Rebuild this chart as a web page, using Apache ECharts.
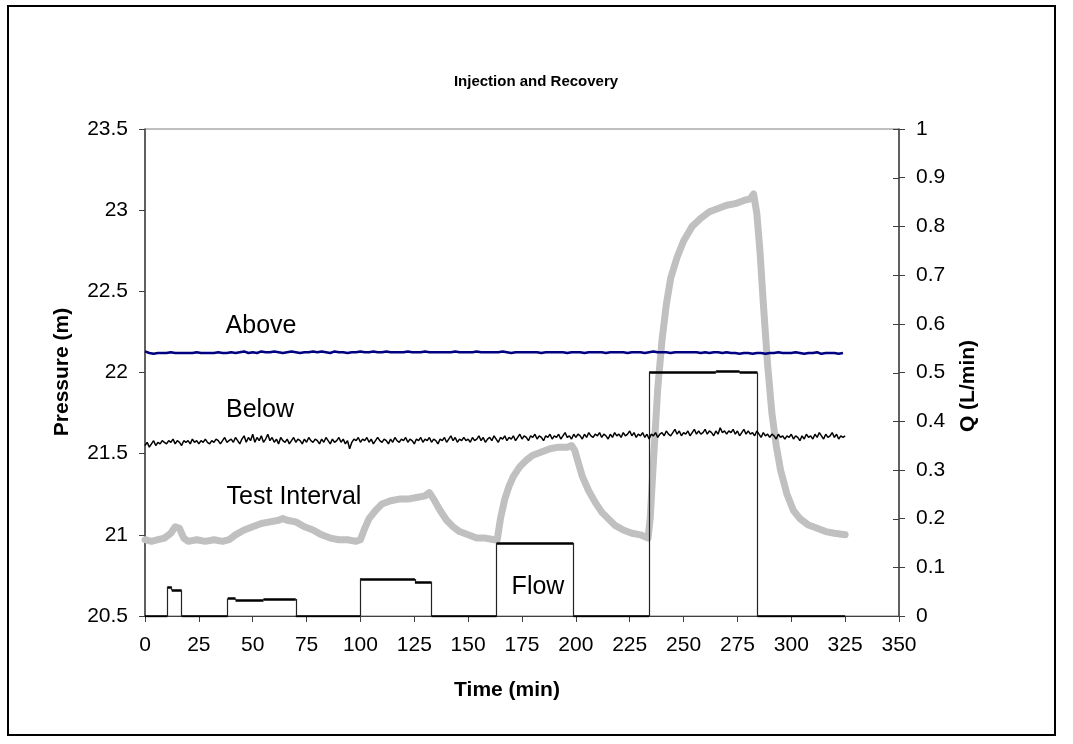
<!DOCTYPE html>
<html>
<head>
<meta charset="utf-8">
<script src="https://cdn.jsdelivr.net/npm/echarts@6/dist/echarts.min.js"></script>
<style>
  html, body { margin: 0; padding: 0; background: #ffffff; }
  #chart { width: 1073px; height: 744px; }
</style>
</head>
<body>
<div id="chart"></div>
<script>
// ---- axis ranges / ticks ----
const timeRange = [0, 350, 25];          // min, max, step (min)
const pressureRange = [20.5, 23.5, 0.5]; // m
const flowRange = [0, 1, 0.1];           // L/min

// ---- "Above" transducer, sampled every 2 min from t = 0 ----
const aboveStart = 0, aboveStep = 2;
const abovePressure = [
  22.13, 22.12, 22.115, 22.12, 22.12, 22.12, 22.125, 22.12, 22.12, 22.12,
  22.12, 22.12, 22.125, 22.12, 22.12, 22.12, 22.12, 22.125, 22.12, 22.12,
  22.125, 22.12, 22.125, 22.13, 22.12, 22.125, 22.12, 22.13, 22.125, 22.125,
  22.13, 22.125, 22.12, 22.125, 22.13, 22.125, 22.12, 22.125, 22.125, 22.13,
  22.125, 22.13, 22.125, 22.12, 22.13, 22.125, 22.125, 22.12, 22.125, 22.125,
  22.13, 22.125, 22.125, 22.13, 22.125, 22.125, 22.13, 22.125, 22.125, 22.125,
  22.125, 22.13, 22.125, 22.125, 22.125, 22.13, 22.125, 22.125, 22.125, 22.125,
  22.125, 22.125, 22.13, 22.125, 22.125, 22.125, 22.125, 22.13, 22.125, 22.125,
  22.125, 22.125, 22.125, 22.13, 22.125, 22.12, 22.125, 22.125, 22.125, 22.125,
  22.125, 22.125, 22.12, 22.125, 22.125, 22.125, 22.125, 22.125, 22.12, 22.125,
  22.125, 22.125, 22.12, 22.125, 22.125, 22.125, 22.125, 22.12, 22.125, 22.125,
  22.125, 22.125, 22.12, 22.125, 22.125, 22.125, 22.12, 22.125, 22.13, 22.125,
  22.125, 22.125, 22.12, 22.125, 22.125, 22.125, 22.125, 22.125, 22.125, 22.12,
  22.125, 22.12, 22.125, 22.125, 22.12, 22.125, 22.12, 22.12, 22.115, 22.12,
  22.12, 22.115, 22.12, 22.12, 22.115, 22.12, 22.12, 22.125, 22.12, 22.12,
  22.12, 22.125, 22.12, 22.115, 22.12, 22.12, 22.125, 22.115, 22.12, 22.12,
  22.12, 22.115, 22.12
];

// ---- "Below" transducer, sampled every minute from t = 0 ----
const belowStart = 0, belowStep = 1;
const belowPressure = [
  21.55, 21.57, 21.54, 21.56, 21.58, 21.55, 21.57, 21.56, 21.58, 21.57,
  21.56, 21.58, 21.57, 21.59, 21.56, 21.58, 21.57, 21.55, 21.58, 21.57,
  21.58, 21.56, 21.59, 21.57, 21.58, 21.56, 21.58, 21.57, 21.59, 21.57,
  21.56, 21.58, 21.57, 21.59, 21.58, 21.56, 21.58, 21.60, 21.57, 21.58,
  21.59, 21.57, 21.60, 21.58, 21.56, 21.59, 21.61, 21.57, 21.60, 21.58,
  21.62, 21.57, 21.60, 21.58, 21.61, 21.57, 21.59, 21.62, 21.58, 21.60,
  21.57, 21.59, 21.56, 21.60, 21.58, 21.57, 21.59, 21.56, 21.58, 21.60,
  21.57, 21.59, 21.58, 21.56, 21.59, 21.57, 21.60, 21.58, 21.57, 21.59,
  21.58, 21.56, 21.59, 21.57, 21.60, 21.58, 21.56, 21.59, 21.57, 21.58,
  21.60, 21.57, 21.59, 21.56, 21.58, 21.53, 21.57, 21.59, 21.58, 21.60,
  21.57, 21.59, 21.58, 21.60, 21.57, 21.59, 21.56, 21.58, 21.60, 21.58,
  21.57, 21.59, 21.58, 21.56, 21.59, 21.57, 21.60, 21.58, 21.57, 21.59,
  21.58, 21.60, 21.57, 21.59, 21.58, 21.56, 21.59, 21.58, 21.60, 21.57,
  21.59, 21.58, 21.60, 21.57, 21.59, 21.58, 21.56, 21.59, 21.58, 21.60,
  21.57, 21.59, 21.61, 21.58, 21.60, 21.57, 21.59, 21.58, 21.60, 21.58,
  21.59, 21.57, 21.60, 21.58, 21.59, 21.61, 21.58, 21.60, 21.57, 21.59,
  21.60, 21.58, 21.61, 21.59, 21.57, 21.60, 21.59, 21.61, 21.58, 21.60,
  21.59, 21.61, 21.58, 21.60, 21.62, 21.59, 21.61, 21.60, 21.58, 21.61,
  21.60, 21.62, 21.59, 21.61, 21.60, 21.58, 21.61, 21.60, 21.62, 21.59,
  21.61, 21.60, 21.62, 21.59, 21.61, 21.63, 21.60, 21.61, 21.59, 21.62,
  21.60, 21.62, 21.61, 21.59, 21.62, 21.60, 21.63, 21.61, 21.60, 21.62,
  21.61, 21.63, 21.60, 21.62, 21.61, 21.59, 21.62, 21.60, 21.63, 21.61,
  21.62, 21.60, 21.63, 21.61, 21.62, 21.64, 21.61, 21.63, 21.60, 21.62,
  21.61, 21.63, 21.60, 21.62, 21.59, 21.62, 21.61, 21.63, 21.60, 21.62,
  21.63, 21.61, 21.64, 21.62, 21.61, 21.63, 21.65, 21.62, 21.64, 21.61,
  21.63, 21.62, 21.64, 21.61, 21.63, 21.65, 21.62, 21.64, 21.62, 21.63,
  21.65, 21.62, 21.64, 21.63, 21.61, 21.64, 21.62, 21.66, 21.63, 21.64,
  21.62, 21.64, 21.63, 21.65, 21.62, 21.64, 21.61, 21.63, 21.65, 21.62,
  21.64, 21.62, 21.63, 21.61, 21.64, 21.62, 21.60, 21.63, 21.61, 21.62,
  21.60, 21.62, 21.61, 21.59, 21.62, 21.60, 21.61, 21.59, 21.61, 21.60,
  21.62, 21.59, 21.61, 21.60, 21.58, 21.61, 21.59, 21.62, 21.60, 21.61,
  21.59, 21.62, 21.60, 21.63, 21.61, 21.59, 21.62, 21.60, 21.61, 21.63,
  21.60, 21.62, 21.59, 21.61, 21.60, 21.61
];

// ---- test interval pressure: [time (min), pressure (m)] ----
const testInterval = [
  [0, 20.97], [3, 20.96], [6, 20.97], [9, 20.98], [12, 21.01], [14, 21.05],
  [16, 21.04], [18, 20.98], [20, 20.96], [24, 20.97], [28, 20.96], [32, 20.97],
  [36, 20.96], [39, 20.97], [42, 21.00], [46, 21.03], [50, 21.05], [54, 21.07],
  [58, 21.08], [62, 21.09], [64, 21.10], [66, 21.09], [70, 21.08], [74, 21.05],
  [78, 21.03], [82, 21.00], [86, 20.98], [90, 20.97], [94, 20.97], [98, 20.96],
  [100, 20.97], [102, 21.04], [104, 21.10], [107, 21.15], [110, 21.19], [114, 21.21],
  [118, 21.22], [122, 21.22], [126, 21.23], [130, 21.24], [132, 21.26], [134, 21.22],
  [137, 21.15], [140, 21.09], [143, 21.05], [146, 21.02], [150, 21.00], [154, 20.98],
  [158, 20.98], [162, 20.97], [163.5, 20.97], [165, 21.10], [167, 21.22], [169, 21.30],
  [171, 21.36], [174, 21.42], [177, 21.46], [180, 21.49], [184, 21.51], [188, 21.53],
  [192, 21.54], [196, 21.54], [198, 21.55], [199.5, 21.52], [201, 21.45], [203, 21.36],
  [206, 21.27], [209, 21.20], [212, 21.14], [215, 21.10], [218, 21.06], [222, 21.03],
  [226, 21.01], [230, 21.00], [233.5, 20.98], [234.5, 21.10], [236, 21.45], [238, 21.90],
  [240, 22.20], [242, 22.42], [244, 22.58], [247, 22.71], [250, 22.81], [254, 22.90],
  [258, 22.95], [262, 22.99], [266, 23.01], [270, 23.03], [274, 23.04], [278, 23.06],
  [281, 23.07], [282.5, 23.10], [284, 22.98], [285.5, 22.74], [287, 22.43], [289, 22.05],
  [291, 21.75], [293, 21.55], [295, 21.40], [298, 21.25], [301, 21.15], [304, 21.10],
  [308, 21.06], [312, 21.04], [316, 21.02], [320, 21.01], [325, 21.00]
];

// ---- injection rate steps: [start (min), end (min), Q (L/min)] ----
const flowSteps = [
  [10.4, 12.4, 0.060], [12.4, 17.0, 0.053],
  [38.4, 42.0, 0.036], [42.0, 55.0, 0.033], [55.0, 70.0, 0.035],
  [99.8, 125.3, 0.076], [125.3, 133.0, 0.070],
  [163.2, 198.8, 0.150],
  [234.0, 265.0, 0.500], [265.0, 276.0, 0.503], [276.0, 284.3, 0.500]
];
const flowEnd = 325;

// build series data from the arrays above
const aboveData = abovePressure.map((p, i) => [aboveStart + i * aboveStep, p]);
const belowData = belowPressure.map((p, i) => [belowStart + i * belowStep, p]);

// horizontal runs (including zero-flow stretches) and vertical jumps of the step trace
const flowFlat = [];
const flowJumps = [];
let cursor = 0, level = 0;
flowSteps.forEach(([s, e, q]) => {
  if (s > cursor) {
    flowFlat.push({ coords: [[cursor, 0], [s, 0]] });
    level = 0;
  }
  flowJumps.push({ coords: [[s, level], [s, q]] });
  flowFlat.push({ coords: [[s, q], [e, q]] });
  cursor = e; level = q;
});
flowJumps.push({ coords: [[cursor, level], [cursor, 0]] });
flowFlat.push({ coords: [[cursor, 0], [flowEnd, 0]] });
for (let i = 0; i < flowSteps.length - 1; i++) {
  const [, e, q] = flowSteps[i];
  if (flowSteps[i + 1][0] > e) flowJumps.push({ coords: [[e, q], [e, 0]] });
}

const FONT = '"Liberation Sans", Arial, sans-serif';
const AXIS_DARK = '#404040';

const chart = echarts.init(document.getElementById('chart'), null, { renderer: 'canvas' });

chart.setOption({
  animation: false,
  backgroundColor: '#ffffff',
  textStyle: { fontFamily: FONT },
  grid: {
    left: 145, top: 129, right: 174, bottom: 128,
    show: true, borderColor: '#808080', borderWidth: 1, backgroundColor: 'transparent'
  },
  xAxis: {
    type: 'value',
    min: timeRange[0], max: timeRange[1], interval: timeRange[2],
    axisLine: { show: true, onZero: false, lineStyle: { color: AXIS_DARK, width: 1 } },
    axisTick: { show: true, inside: false, length: 6, lineStyle: { color: AXIS_DARK } },
    axisLabel: { color: '#000', fontSize: 21, fontFamily: FONT, margin: 19 },
    splitLine: { show: false }
  },
  yAxis: [
    {
      type: 'value', position: 'left',
      min: pressureRange[0], max: pressureRange[1], interval: pressureRange[2],
      axisLine: { show: true, onZero: false, lineStyle: { color: AXIS_DARK, width: 1.5 } },
      axisTick: { show: true, inside: false, length: 6, lineStyle: { color: AXIS_DARK } },
      axisLabel: { color: '#000', fontSize: 21, fontFamily: FONT, margin: 17 },
      splitLine: { show: false }
    },
    {
      type: 'value', position: 'right',
      min: flowRange[0], max: flowRange[1], interval: flowRange[2],
      axisLine: { show: true, onZero: false, lineStyle: { color: AXIS_DARK, width: 1.5 } },
      axisTick: { show: true, inside: false, length: 6, lineStyle: { color: AXIS_DARK } },
      axisLabel: { color: '#000', fontSize: 21, fontFamily: FONT, margin: 17 },
      splitLine: { show: false }
    }
  ],
  series: [
    {
      name: 'Test Interval', type: 'line', yAxisIndex: 0,
      data: testInterval, showSymbol: false, smooth: false,
      lineStyle: { color: '#c0c0c0', width: 7, join: 'round', cap: 'round' },
      z: 2
    },
    {
      name: 'Flow', type: 'lines', coordinateSystem: 'cartesian2d', yAxisIndex: 1,
      polyline: false, data: flowFlat,
      lineStyle: { color: '#000000', width: 2.5, opacity: 1 },
      z: 3
    },
    {
      name: 'Flow jumps', type: 'lines', coordinateSystem: 'cartesian2d', yAxisIndex: 1,
      polyline: false, data: flowJumps,
      lineStyle: { color: '#222222', width: 1.2, opacity: 1 },
      z: 3
    },
    {
      name: 'Below', type: 'line', yAxisIndex: 0,
      data: belowData, showSymbol: false,
      lineStyle: { color: '#000000', width: 1.5 },
      z: 4
    },
    {
      name: 'Above', type: 'line', yAxisIndex: 0,
      data: aboveData, showSymbol: false,
      lineStyle: { color: '#000080', width: 2.5 },
      z: 5
    }
  ]
});

// inner half of the crossing ticks on the flow axis, placed through the axis scale
const flowTickMarks = [];
const rightEdgeX = chart.convertToPixel({ xAxisIndex: 0 }, timeRange[1]);
for (let k = 0; k <= Math.round((flowRange[1] - flowRange[0]) / flowRange[2]); k++) {
  const y = Math.round(chart.convertToPixel({ yAxisIndex: 1 }, flowRange[0] + k * flowRange[2])) + 0.5;
  flowTickMarks.push({
    type: 'line', silent: true,
    shape: { x1: rightEdgeX - 6, y1: y, x2: rightEdgeX, y2: y },
    style: { stroke: AXIS_DARK, lineWidth: 1 }
  });
}

chart.setOption({
  graphic: [
    // outer frame
    { type: 'rect', shape: { x: 8, y: 6, width: 1047, height: 729 },
      style: { fill: 'none', stroke: '#000', lineWidth: 2 }, z: 10 },
    { type: 'text', x: 536, y: 82,
      style: { text: 'Injection and Recovery', font: 'bold 15px ' + FONT, fill: '#000', align: 'center', verticalAlign: 'middle' } },
    { type: 'text', x: 507, y: 690,
      style: { text: 'Time (min)', font: 'bold 21px ' + FONT, fill: '#000', align: 'center', verticalAlign: 'middle' } },
    { type: 'text', x: 62, y: 372, rotation: Math.PI / 2,
      style: { text: 'Pressure (m)', font: 'bold 21px ' + FONT, fill: '#000', align: 'center', verticalAlign: 'middle' } },
    { type: 'text', x: 968, y: 386, rotation: Math.PI / 2,
      style: { text: 'Q (L/min)', font: 'bold 21px ' + FONT, fill: '#000', align: 'center', verticalAlign: 'middle' } },
    { type: 'text', x: 261, y: 326,
      style: { text: 'Above', font: '25px ' + FONT, fill: '#000', align: 'center', verticalAlign: 'middle' } },
    { type: 'text', x: 260, y: 410,
      style: { text: 'Below', font: '25px ' + FONT, fill: '#000', align: 'center', verticalAlign: 'middle' } },
    { type: 'text', x: 294, y: 497,
      style: { text: 'Test Interval', font: '25px ' + FONT, fill: '#000', align: 'center', verticalAlign: 'middle' } },
    { type: 'text', x: 538, y: 587,
      style: { text: 'Flow', font: '25px ' + FONT, fill: '#000', align: 'center', verticalAlign: 'middle' } }
  ].concat(flowTickMarks)
});
</script>
</body>
</html>
